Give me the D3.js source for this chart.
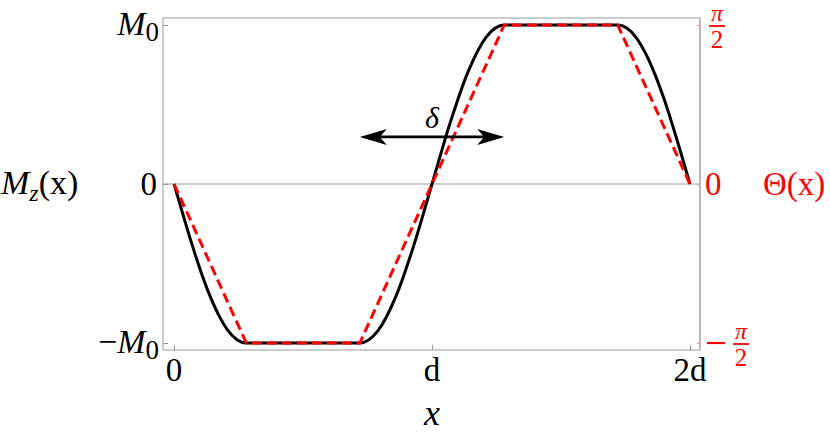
<!DOCTYPE html>
<html>
<head>
<meta charset="utf-8">
<script src="https://cdn.jsdelivr.net/npm/d3@7"></script>
<style>
  html, body { margin: 0; padding: 0; background: #fff; }
  svg text { font-family: "Liberation Serif", "DejaVu Serif", serif; }
</style>
</head>
<body>
<svg id="chart" width="830" height="436"></svg>
<script>
// ---- data (x in units of d; y in units of M0 / (π/2)) ----
const xTicks = [0, 1, 2];
const xTickLabels = ["0", "d", "2d"];
const yTicks = [-1, 0, 1];

// Θ(x): red dashed piecewise-linear profile (units of π/2)
const thetaX = [0, 0.28, 0.72, 1.28, 1.72, 2];
const thetaY = [0, -1, -1, 1, 1, 0];

// M_z(x): black smooth profile (units of M0)
const mX = [0, 0.035, 0.07, 0.105, 0.14, 0.175, 0.21, 0.245, 0.28,
            0.72, 0.79, 0.86, 0.93, 1.0, 1.07, 1.14, 1.21, 1.28,
            1.72, 1.755, 1.79, 1.825, 1.86, 1.895, 1.93, 1.965, 2];
const mY = [0, -0.195, -0.383, -0.556, -0.707, -0.831, -0.924, -0.981, -1,
            -1, -0.924, -0.707, -0.383, 0, 0.383, 0.707, 0.924, 1,
            1, 0.981, 0.924, 0.831, 0.707, 0.556, 0.383, 0.195, 0];

// δ arrow
const arrowX = [0.72, 1.28];
const arrowY = 0.296;

// ---- layout ----
const frame = {left: 163, right: 700, top: 18, bottom: 350};
const svg = d3.select("#chart");

const x = d3.scaleLinear().domain([-0.043, 2.039]).range([frame.left, frame.right]);
const y = d3.scaleLinear().domain([-1.044, 1.044]).range([frame.bottom, frame.top]);

const gray = "#9a9a9a";
const red = "#ff0000";

// zero line
svg.append("line")
  .attr("x1", frame.left).attr("x2", frame.right)
  .attr("y1", y(0)).attr("y2", y(0))
  .attr("stroke", gray).attr("stroke-width", 1);

// ticks (inward) via d3 axes
const bottomAxis = d3.axisBottom(x).tickValues(xTicks).tickSize(-5).tickFormat("");
svg.append("g").attr("transform", `translate(0,${frame.bottom})`).call(bottomAxis)
  .call(g => g.select(".domain").remove())
  .call(g => g.selectAll(".tick line").attr("stroke", gray));

const leftAxis = d3.axisLeft(y).tickValues(yTicks).tickSize(-5).tickFormat("");
svg.append("g").attr("transform", `translate(${frame.left},0)`).call(leftAxis)
  .call(g => g.select(".domain").remove())
  .call(g => g.selectAll(".tick line").attr("stroke", gray));

const rightAxis = d3.axisRight(y).tickValues(yTicks).tickSize(-3).tickFormat("");
svg.append("g").attr("transform", `translate(${frame.right},0)`).call(rightAxis)
  .call(g => g.select(".domain").remove())
  .call(g => g.selectAll(".tick line").attr("stroke", "#ff8080"));

// frame
svg.append("path")
  .attr("d", `M${frame.right},${frame.top}H${frame.left}V${frame.bottom}H${frame.right}`)
  .attr("fill", "none").attr("stroke", gray).attr("stroke-width", 1);
svg.append("line")
  .attr("x1", frame.right).attr("x2", frame.right)
  .attr("y1", frame.top).attr("y2", frame.bottom)
  .attr("stroke", "#b8b8b8").attr("stroke-width", 2);

// curves
const mData = mX.map((v, i) => [v, mY[i]]);
const tData = thetaX.map((v, i) => [v, thetaY[i]]);

svg.append("path")
  .datum(mData)
  .attr("d", d3.line().x(d => x(d[0])).y(d => y(d[1])).curve(d3.curveMonotoneX))
  .attr("fill", "none").attr("stroke", "#000").attr("stroke-width", 3)
  .attr("stroke-linejoin", "round");

svg.append("path")
  .datum(tData)
  .attr("d", d3.line().x(d => x(d[0])).y(d => y(d[1])))
  .attr("fill", "none").attr("stroke", red).attr("stroke-width", 3)
  .attr("stroke-dasharray", "10,5");

// δ arrow
const ax0 = x(arrowX[0]), ax1 = x(arrowX[1]), ay = y(arrowY);
const headL = 27, headW = 8, notch = 20;
svg.append("line")
  .attr("x1", ax0 + notch).attr("x2", ax1 - notch)
  .attr("y1", ay).attr("y2", ay)
  .attr("stroke", "#000").attr("stroke-width", 2.8);
svg.append("path")
  .attr("d", `M${ax0},${ay}L${ax0 + headL},${ay - headW}L${ax0 + notch},${ay}L${ax0 + headL},${ay + headW}Z`)
  .attr("fill", "#000");
svg.append("path")
  .attr("d", `M${ax1},${ay}L${ax1 - headL},${ay - headW}L${ax1 - notch},${ay}L${ax1 - headL},${ay + headW}Z`)
  .attr("fill", "#000");
svg.append("text")
  .attr("x", x((arrowX[0] + arrowX[1]) / 2)).attr("y", ay - 9)
  .attr("text-anchor", "middle").attr("font-size", 30).attr("font-style", "italic")
  .text("δ");

// x tick labels
svg.selectAll(".xlab").data(xTicks).enter().append("text")
  .attr("x", d => x(d)).attr("y", frame.bottom + 31)
  .attr("text-anchor", "middle").attr("font-size", 33)
  .text((d, i) => xTickLabels[i]);

// x axis title
svg.append("text")
  .attr("x", x(1)).attr("y", 425)
  .attr("text-anchor", "middle").attr("font-size", 36).attr("font-style", "italic")
  .text("x");

// left tick labels
function mLabel(yv, neg) {
  const t = svg.append("text")
    .attr("x", frame.left - 4).attr("y", y(yv) + 10)
    .attr("text-anchor", "end").attr("font-size", 34);
  if (neg) t.append("tspan").text("−");
  t.append("tspan").attr("font-style", "italic").text("M");
  t.append("tspan").attr("font-size", 27).attr("dy", 6).text("0");
}
mLabel(1, false);
mLabel(-1, true);
svg.append("text")
  .attr("x", frame.left - 6).attr("y", y(0) + 11)
  .attr("text-anchor", "end").attr("font-size", 33).text("0");

// left axis title M_z(x)
const mz = svg.append("text").attr("x", 1).attr("y", y(0) + 10).attr("font-size", 34);
mz.append("tspan").attr("font-style", "italic").text("M");
mz.append("tspan").attr("font-style", "italic").attr("font-size", 24).attr("dy", 7).text("z");
mz.append("tspan").attr("dy", -7).text("(x)");

// right tick labels (red)
svg.append("text")
  .attr("x", frame.right + 5).attr("y", y(0) + 11)
  .attr("font-size", 33).attr("fill", red).text("0");

function piHalf(cx, cy) {
  svg.append("text").attr("x", cx).attr("y", cy - 5)
    .attr("text-anchor", "middle").attr("font-size", 24).attr("font-style", "italic")
    .attr("fill", red).text("π");
  svg.append("line").attr("x1", cx - 8).attr("x2", cx + 8)
    .attr("y1", cy).attr("y2", cy).attr("stroke", red).attr("stroke-width", 1.8);
  svg.append("text").attr("x", cx).attr("y", cy + 22)
    .attr("text-anchor", "middle").attr("font-size", 25)
    .attr("fill", red).text("2");
}
piHalf(717, y(1) + 1);
svg.append("line").attr("x1", 707).attr("x2", 725)
  .attr("y1", y(-1)).attr("y2", y(-1)).attr("stroke", red).attr("stroke-width", 2.2);
piHalf(741, y(-1) + 1);

// right axis title Θ(x)
svg.append("text")
  .attr("x", 763).attr("y", y(0) + 11)
  .attr("font-size", 33).attr("fill", red).text("Θ(x)");
</script>
</body>
</html>
